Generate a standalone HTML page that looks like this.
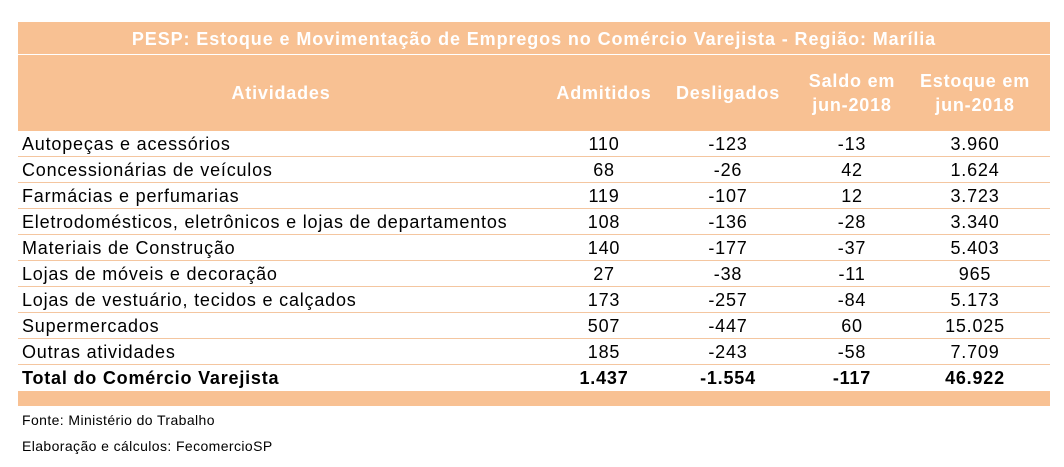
<!DOCTYPE html>
<html><head><meta charset="utf-8"><style>
body{margin:0;width:1064px;height:467px;background:#fff;font-family:"Liberation Sans",Arial,sans-serif;position:relative;overflow:hidden}
.a{position:absolute}
.title{left:18px;top:22px;width:1032px;height:32px;background:#f8c193;color:#fff;font-weight:bold;font-size:18px;letter-spacing:0.9px;text-align:center;line-height:34px}
.head{left:18px;top:55px;width:1032px;height:76px;background:#f8c193}
.h{position:absolute;color:#fff;font-weight:bold;font-size:18px;letter-spacing:0.8px;text-align:center;line-height:24px}
.row{position:absolute;left:18px;width:1032px;height:26px;border-bottom:1px solid #f4c6a0;box-sizing:border-box;font-size:18px;letter-spacing:0.8px;color:#000}
.row span{position:absolute;top:2px;line-height:22px}
.c{text-align:center;width:120px}
.bar{left:18px;top:391px;width:1032px;height:15px;background:#f8c193}
.foot{left:22px;font-size:14px;letter-spacing:0.4px;color:#000}
</style></head><body>
<div class="a title">PESP: Estoque e Movimentação de Empregos no Comércio Varejista - Região: Marília</div>
<div class="a head">
<div class="h" style="left:163px;top:26px;width:200px">Atividades</div>
<div class="h" style="left:526px;top:26px;width:120px">Admitidos</div>
<div class="h" style="left:650px;top:26px;width:120px">Desligados</div>
<div class="h" style="left:774px;top:14px;width:120px">Saldo em<br>jun-2018</div>
<div class="h" style="left:897px;top:14px;width:120px">Estoque em<br>jun-2018</div>
</div>
<div id="rows"></div>
<div class="a bar"></div>
<div class="a foot" style="top:412px">Fonte: Ministério do Trabalho</div>
<div class="a foot" style="top:438px">Elaboração e cálculos: FecomercioSP</div>
<script>
const activities=["Autopeças e acessórios","Concessionárias de veículos","Farmácias e perfumarias","Eletrodomésticos, eletrônicos e lojas de departamentos","Materiais de Construção","Lojas de móveis e decoração","Lojas de vestuário, tecidos e calçados","Supermercados","Outras atividades","Total do Comércio Varejista"];
const admitidos=["110","68","119","108","140","27","173","507","185","1.437"];
const desligados=["-123","-26","-107","-136","-177","-38","-257","-447","-243","-1.554"];
const saldo=["-13","42","12","-28","-37","-11","-84","60","-58","-117"];
const estoque=["3.960","1.624","3.723","3.340","5.403","965","5.173","15.025","7.709","46.922"];
const host=document.getElementById('rows');
activities.forEach((name,i)=>{
 const r=document.createElement('div');
 r.className='row';
 
 
 r.style.top=(131+i*26)+'px';
 const last=i===activities.length-1;
 if(last){r.style.fontWeight='bold';r.style.borderBottom='none';}
 const cells=[[name,4,null],[admitidos[i],526,1],[desligados[i],650,1],[saldo[i],774,1],[estoque[i],897,1]];
 cells.forEach((c,j)=>{
  const s=document.createElement('span');
  
  
  s.textContent=c[0];
  s.style.left=c[1]+'px';
  if(c[2])s.className='c';
  r.appendChild(s);
 });
 host.appendChild(r);
});
</script>
</body></html>
